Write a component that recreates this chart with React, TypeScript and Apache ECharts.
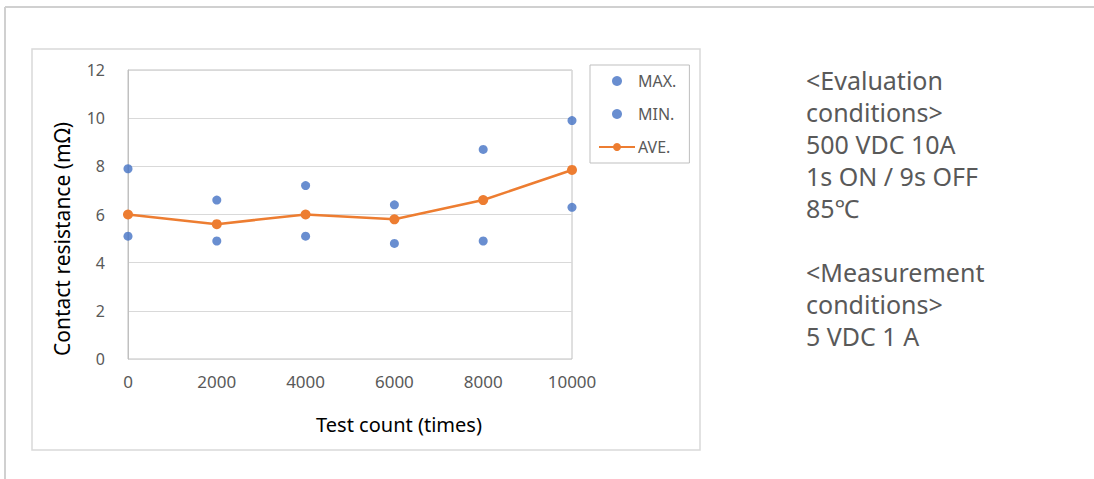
import React, { useEffect, useRef } from "react";
import * as echarts from "echarts";

const xTicks = [0, 2000, 4000, 6000, 8000, 10000];
const maxValues = [7.9, 6.6, 7.2, 6.4, 8.7, 9.9];
const minValues = [5.1, 4.9, 5.1, 4.8, 4.9, 6.3];
const aveValues = [6.0, 5.6, 6.0, 5.8, 6.6, 7.85];
const seriesNames = ["MAX.", "MIN.", "AVE."];
const xTitle = "Test count (times)";
const yTitle = "Contact resistance (mΩ)";
const noteLines = [
  "<Evaluation",
  "conditions>",
  "500 VDC 10A",
  "1s ON / 9s OFF",
  "85℃",
  "",
  "<Measurement",
  "conditions>",
  "5 VDC 1 A",
];

const FONT = "'Noto Sans', 'Open Sans', sans-serif";

export default function App() {
  const ref = useRef<HTMLDivElement>(null);
  useEffect(() => {
    if (!ref.current) return;
    const chart = echarts.init(ref.current, null, { renderer: "svg" });
    const pair = (vals: number[]) => xTicks.map((x, i) => [x, vals[i]]);
    chart.setOption({
      animation: false,
      backgroundColor: "#ffffff",
      textStyle: { fontFamily: FONT },
      grid: {
        left: 128,
        top: 70,
        right: 522,
        bottom: 120,
        show: true,
        borderColor: "#c0c0c0",
        borderWidth: 1,
        backgroundColor: "transparent",
      },
      xAxis: {
        type: "value",
        min: 0,
        max: 10000,
        interval: 2000,
        axisLine: { show: false },
        axisTick: { show: false },
        splitLine: { show: false },
        axisLabel: {
          color: "#595959",
          fontSize: 17,
          margin: 14,
          fontFamily: FONT,
          formatter: (v: number) => String(v),
        },
      },
      yAxis: {
        type: "value",
        min: 0,
        max: 12,
        interval: 2,
        axisLine: { show: true, lineStyle: { color: "#c0c0c0" } },
        axisTick: { show: false },
        splitLine: { show: true, lineStyle: { color: "#d9d9d9", width: 1.2 } },
        axisLabel: { color: "#595959", fontSize: 16, margin: 23, fontFamily: FONT },
      },
      legend: {
        orient: "vertical",
        left: 590,
        top: 65,
        padding: [8, 13, 8, 8],
        itemWidth: 36,
        itemHeight: 10,
        itemGap: 17,
        borderColor: "#bfbfbf",
        borderWidth: 1,
        data: seriesNames,
        textStyle: { color: "#595959", fontSize: 16, fontFamily: FONT, padding: [0, 0, 0, -2] },
      },
      series: [
        {
          name: seriesNames[0],
          type: "scatter",
          data: pair(maxValues),
          symbolSize: 9,
          itemStyle: { color: "#4472C4" },
        },
        {
          name: seriesNames[1],
          type: "scatter",
          data: pair(minValues),
          symbolSize: 9,
          itemStyle: { color: "#4472C4" },
        },
        {
          name: seriesNames[2],
          type: "line",
          data: pair(aveValues),
          symbol: "circle",
          symbolSize: 10,
          lineStyle: { color: "#ED7D31", width: 2.5 },
          itemStyle: { color: "#ED7D31" },
        },
      ],
      graphic: [
        {
          type: "line",
          shape: { x1: 5, y1: 7, x2: 1094, y2: 7 },
          style: { stroke: "#d0d0d0", lineWidth: 2 },
          silent: true,
        },
        {
          type: "line",
          shape: { x1: 5, y1: 7, x2: 5, y2: 479 },
          style: { stroke: "#d0d0d0", lineWidth: 2 },
          silent: true,
        },
        {
          type: "rect",
          shape: { x: 32, y: 49, width: 668, height: 401 },
          style: { fill: "transparent", stroke: "#d9d9d9", lineWidth: 1.5 },
          silent: true,
          z: -1,
        },
        {
          type: "text",
          x: 399,
          y: 424,
          style: {
            text: xTitle,
            fill: "#000000",
            fontSize: 20,
            fontFamily: FONT,
            align: "center",
            verticalAlign: "middle",
          },
          silent: true,
        },
        {
          type: "text",
          x: 62,
          y: 239,
          rotation: Math.PI / 2,
          style: {
            text: yTitle,
            fill: "#000000",
            fontSize: 21,
            fontFamily: FONT,
            align: "center",
            verticalAlign: "middle",
          },
          silent: true,
        },
        ...noteLines.map((t, i) => ({
          type: "text",
          left: 806,
          top: 67 + i * 32,
          style: {
            text: t,
            fill: "#595959",
            fontSize: 25,
            fontFamily: FONT,
          },
          silent: true,
        })),
      ],
    });
    return () => chart.dispose();
  }, []);
  return (
    <div
      ref={ref}
      style={{ position: "absolute", left: 0, top: 0, width: 1094, height: 479 }}
    />
  );
}
